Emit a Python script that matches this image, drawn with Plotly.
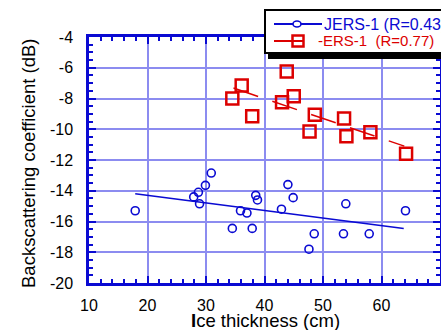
import plotly.graph_objects as go

# JERS-1 observations (ice thickness cm, backscatter dB)
jers_x = [17.9, 30.9, 29.9, 28.7, 27.9, 28.9, 38.5, 38.8, 35.9, 37.0, 42.9, 44.0, 44.9, 53.9, 64.1,
          34.5, 37.9, 48.5, 53.5, 57.9, 47.6]
jers_y = [-15.3, -12.85, -13.65, -14.1, -14.4, -14.85, -14.3, -14.6, -15.3, -15.45, -15.2, -13.6, -14.45, -14.85, -15.3,
          -16.45, -16.45, -16.8, -16.8, -16.8, -17.8]
# ERS-1 observations
ers_x = [34.5, 36.1, 43.8, 45.0, 43.0, 37.9, 48.6, 53.6, 47.7, 54.0, 58.1, 64.2]
ers_y = [-8.0, -7.15, -6.25, -7.85, -8.25, -9.15, -9.05, -9.3, -10.15, -10.45, -10.2, -11.6]
# regression line end points
jers_fit_x = [17.9, 63.8]
jers_fit_y = [-14.2, -16.45]
ers_fit_x = [34.7, 63.9]
ers_fit_y = [-7.32, -11.1]

x_ticks = [10, 20, 30, 40, 50, 60, 70]
y_ticks = [-4, -6, -8, -10, -12, -14, -16, -18, -20]
legend_labels = ["JERS-1 (R=0.43)", "-ERS-1\u00a0\u00a0(R=0.77)"]

BLUE = "#0a0ad2"
RED = "#dc0000"
GRID = "#8c8cf0"
FONT = "Liberation Sans, Arial, sans-serif"

W, H = 441, 330
ML, MR, MT, MB = 89, 1, 37, 47
PW, PH = W - ML - MR, H - MT - MB


def px(x):
    return (x - ML) / PW


def py(y):
    return (H - MB - y) / PH


fig = go.Figure()
fig.add_trace(go.Scatter(x=jers_fit_x, y=jers_fit_y, mode="lines",
                         line=dict(color=BLUE, width=1.5), showlegend=False))
fig.add_trace(go.Scatter(x=ers_fit_x, y=ers_fit_y, mode="lines",
                         line=dict(color=RED, width=1.5, dash="26px,15px"), showlegend=False))
fig.add_trace(go.Scatter(x=jers_x, y=jers_y, mode="markers",
                         marker=dict(symbol="circle-open", size=8, color=BLUE, line=dict(width=1.6)),
                         showlegend=False))
fig.add_trace(go.Scatter(x=ers_x, y=ers_y, mode="markers",
                         marker=dict(symbol="square-open", size=12, color=RED, line=dict(width=2.5)),
                         showlegend=False))

axis_common = dict(showline=True, linecolor=BLUE, linewidth=2.5, mirror="allticks",
                   ticks="inside", ticklen=7, tickwidth=2, tickcolor=BLUE,
                   showgrid=True, gridcolor=GRID, gridwidth=1.5, zeroline=False,
                   tickfont=dict(family=FONT, size=16, color="black"))

fig.update_xaxes(range=[10, 70], tickvals=x_ticks, ticktext=[str(v) for v in x_ticks],
                 minor=dict(dtick=2, ticks="inside", ticklen=4, tickwidth=1.5, tickcolor=BLUE, showgrid=False),
                 ticklabelstandoff=6, **axis_common)
fig.update_yaxes(range=[-20, -4], tickvals=y_ticks, ticktext=[str(v) for v in y_ticks],
                 minor=dict(dtick=0.5, ticks="inside", ticklen=4, tickwidth=1.5, tickcolor=BLUE, showgrid=False),
                 ticklabelstandoff=10, **axis_common)

shapes = []
annotations = []
# legend: drop shadow, box, symbols
shapes.append(dict(type="rect", xref="paper", yref="paper", x0=px(268), x1=px(460), y0=py(15), y1=py(59),
                   fillcolor="black", line=dict(width=0), layer="above"))
shapes.append(dict(type="rect", xref="paper", yref="paper", x0=px(265), x1=px(460), y0=py(10), y1=py(53),
                   fillcolor="white", line=dict(color="black", width=2), layer="above"))
shapes.append(dict(type="line", xref="paper", yref="paper", x0=px(274), x1=px(322), y0=py(24), y1=py(24),
                   line=dict(color=BLUE, width=2), layer="above"))
shapes.append(dict(type="circle", xref="paper", yref="paper", x0=px(293), x1=px(301), y0=py(21), y1=py(27),
                   fillcolor="white", line=dict(color=BLUE, width=1.6), layer="above"))
shapes.append(dict(type="line", xref="paper", yref="paper", x0=px(274), x1=px(303), y0=py(41), y1=py(41),
                   line=dict(color=RED, width=2), layer="above"))
shapes.append(dict(type="rect", xref="paper", yref="paper", x0=px(292.5), x1=px(303.5), y0=py(35.5), y1=py(46.5),
                   fillcolor="rgba(0,0,0,0)", line=dict(color=RED, width=2.5), layer="above"))
annotations.append(dict(text=legend_labels[0], xref="paper", yref="paper", x=px(322), y=py(24),
                        xanchor="left", yanchor="middle", showarrow=False,
                        font=dict(family=FONT, size=16, color=BLUE)))
annotations.append(dict(text=legend_labels[1], xref="paper", yref="paper", x=px(316), y=py(41),
                        xanchor="left", yanchor="middle", showarrow=False,
                        font=dict(family=FONT, size=15, color=RED)))
# axis titles
annotations.append(dict(text="<b>I</b>ce thickness (cm)", xref="paper", yref="paper", x=px(265), y=py(320),
                        xanchor="center", yanchor="middle", showarrow=False,
                        font=dict(family=FONT, size=18.5, color="black")))
annotations.append(dict(text="Backscattering coefficient (dB)", xref="paper", yref="paper", x=px(28), y=py(163),
                        xanchor="center", yanchor="middle", showarrow=False, textangle=-90,
                        font=dict(family=FONT, size=18.5, color="black")))

fig.update_layout(
    width=W, height=H,
    margin=dict(l=ML, r=MR, t=MT, b=MB, autoexpand=False),
    paper_bgcolor="white", plot_bgcolor="white",
    font=dict(family=FONT, size=16, color="black"),
    showlegend=False,
    shapes=shapes, annotations=annotations,
)

fig.write_html("out.html")
